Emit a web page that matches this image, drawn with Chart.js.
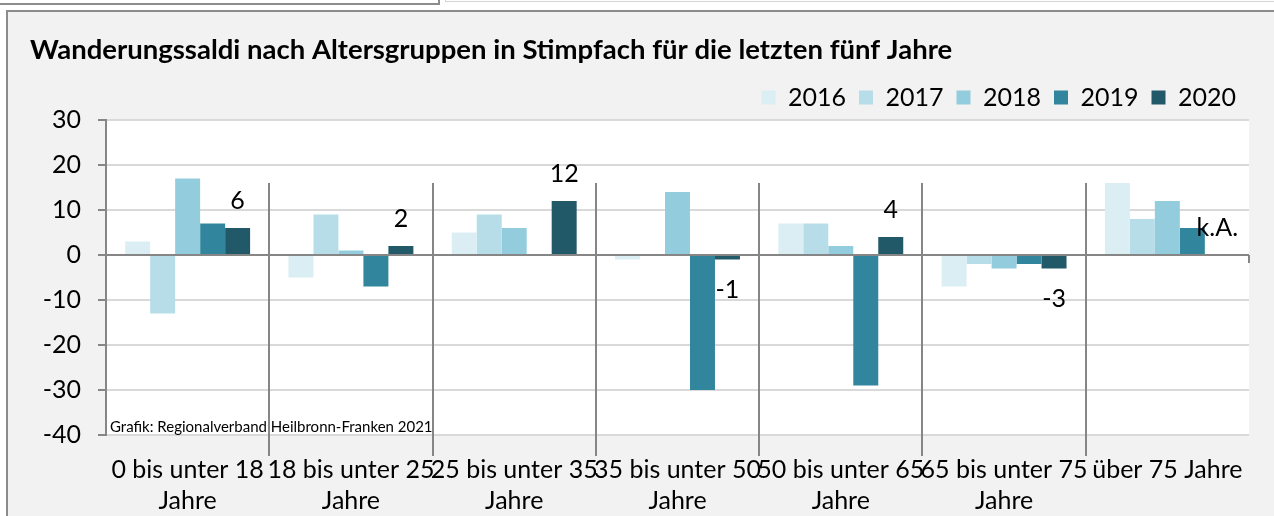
<!DOCTYPE html>
<html lang="de">
<head>
<meta charset="utf-8">
<title>Wanderungssaldi Stimpfach</title>
<script src="https://cdn.jsdelivr.net/npm/chart.js@4.4.1/dist/chart.umd.min.js"></script>
<style>
    html, body { margin: 0; padding: 0; background: #fff; overflow: hidden; }
    body { width: 1274px; height: 516px; position: relative; }
    .marco-superior { position: absolute; left: -2px; top: -10px; width: 438px; height: 11px; border: 2px solid #8c8c8c; background: #fff; }
    .marco-derecho { position: absolute; left: 445px; top: -10px; width: 840px; height: 10px; border: 1px solid #d4d4d4; }
    .panel { position: absolute; left: 6px; top: 10px; width: 1300px; height: 600px; border: 2px solid #8c8c8c; background: #f2f2f2; }
    #chart-wrap { position: absolute; left: 0; top: 0; width: 1274px; height: 516px; }
</style>
</head>
<body>
<div class="marco-superior"></div>
<div class="marco-derecho"></div>
<div class="panel"></div>
<div id="chart-wrap"><canvas id="saldiChart" width="1274" height="516"></canvas></div>
<script>
// Datos
const categories = [
    ['0 bis unter 18', 'Jahre'],
    ['18 bis unter 25', 'Jahre'],
    ['25 bis unter 35', 'Jahre'],
    ['35 bis unter 50', 'Jahre'],
    ['50 bis unter 65', 'Jahre'],
    ['65 bis unter 75', 'Jahre'],
    'über 75 Jahre'
];
const years = ['2016', '2017', '2018', '2019', '2020'];
const values2016 = [3, -5, 5, -1, 7, -7, 16];
const values2017 = [-13, 9, 9, 0, 7, -2, 8];
const values2018 = [17, 1, 6, 14, 2, -3, 12];
const values2019 = [7, -7, 0, -30, -29, -2, 6];
const values2020 = [6, 2, 12, -1, 4, -3, null];
const labels2020 = ['6', '2', '12', '-1', '4', '-3', 'k.A.'];
const yMin = -40;
const yMax = 30;
const yStep = 10;

const seriesColors = ['#daeef3', '#b7dde8', '#93cddd', '#31859c', '#215968'];
const FONT = 'Lato';
const AXIS_GREY = '#868686';

/**
 * Fondo blanco del área de trazado.
 */
const plotBackground = {
    id: 'plotBackground',
    beforeDraw(chart) {
        const { ctx, chartArea: a } = chart;
        ctx.save();
        ctx.fillStyle = '#ffffff';
        ctx.fillRect(a.left, a.top, a.right - a.left, a.bottom - a.top);
        ctx.restore();
    }
};

/**
 * Separadores entre grupos, etiquetas de 2020 y la nota de la fuente.
 */
const extras = {
    id: 'extras',
    afterDatasetsDraw(chart) {
        const { ctx, chartArea: a } = chart;
        const x = chart.scales.x;
        const y = chart.scales.y;
        const zero = y.getPixelForValue(0);

        ctx.save();
        ctx.strokeStyle = AXIS_GREY;
        ctx.lineWidth = 2;
        for (let i = 0; i < categories.length - 1; i++) {
            const sx = Math.round((x.getPixelForValue(i) + x.getPixelForValue(i + 1)) / 2);
            ctx.beginPath();
            ctx.moveTo(sx, y.getPixelForValue(16));
            ctx.lineTo(sx, a.bottom + 21);
            ctx.stroke();
        }
        // marca final del eje de categorías
        ctx.beginPath();
        ctx.moveTo(a.right, zero);
        ctx.lineTo(a.right, zero + 8);
        ctx.stroke();

        // etiquetas de la serie 2020
        const meta = chart.getDatasetMeta(4);
        ctx.fillStyle = '#000';
        ctx.font = `25px ${FONT}`;
        ctx.textAlign = 'center';
        ctx.textBaseline = 'middle';
        meta.data.forEach((bar, i) => {
            const v = values2020[i];
            const end = (v === null) ? zero : bar.y;
            const ty = (v !== null && v < 0) ? end + 30 : end - 27;
            ctx.fillText(labels2020[i], bar.x, ty);
        });

        // nota de la fuente
        ctx.font = `15px ${FONT}`;
        ctx.textAlign = 'left';
        ctx.fillText('Grafik: Regionalverband Heilbronn-Franken 2021', a.left + 4, a.bottom - 8);
        ctx.restore();
    }
};

const datasets = [values2016, values2017, values2018, values2019, values2020].map((data, i) => ({
    label: years[i],
    data: data,
    backgroundColor: seriesColors[i],
    borderWidth: 0,
    categoryPercentage: 0.765,
    barPercentage: 1.0
}));

new Chart(document.getElementById('saldiChart').getContext('2d'), {
    type: 'bar',
    data: { labels: categories, datasets: datasets },
    options: {
        responsive: false,
        animation: false,
        devicePixelRatio: 1,
        layout: { padding: { left: 30, right: 25, top: 0, bottom: 0 } },
        plugins: {
            title: {
                display: true,
                text: 'Wanderungssaldi nach Altersgruppen in Stimpfach für die letzten fünf Jahre',
                align: 'start',
                color: '#000',
                font: { family: FONT, size: 27.5, weight: 'bold', lineHeight: 1.2 },
                padding: { top: 34, bottom: 5 }
            },
            legend: {
                position: 'top',
                align: 'end',
                labels: {
                    color: '#000',
                    font: { family: FONT, size: 25 },
                    boxWidth: 14,
                    boxHeight: 14,
                    padding: 13
                }
            },
            tooltip: { enabled: false }
        },
        scales: {
            x: {
                grid: { display: false, drawTicks: false },
                border: { display: false },
                ticks: {
                    color: '#000',
                    font: { family: FONT, size: 25, lineHeight: 1.24 },
                    maxRotation: 0,
                    minRotation: 0,
                    autoSkip: false,
                    padding: 19
                },
                afterFit(scale) { scale.height = 81; }
            },
            y: {
                min: yMin,
                max: yMax,
                ticks: {
                    stepSize: yStep,
                    color: '#000',
                    font: { family: FONT, size: 25 },
                    padding: 17
                },
                grid: {
                    color: (c) => (c.tick && c.tick.value === 0) ? AXIS_GREY : '#d9d9d9',
                    lineWidth: 2,
                    tickColor: AXIS_GREY,
                    tickLength: 8
                },
                border: { display: true, color: AXIS_GREY, width: 2 },
                afterFit(scale) { scale.width = 76; }
            }
        }
    },
    plugins: [plotBackground, extras]
});
</script>
</body>
</html>
